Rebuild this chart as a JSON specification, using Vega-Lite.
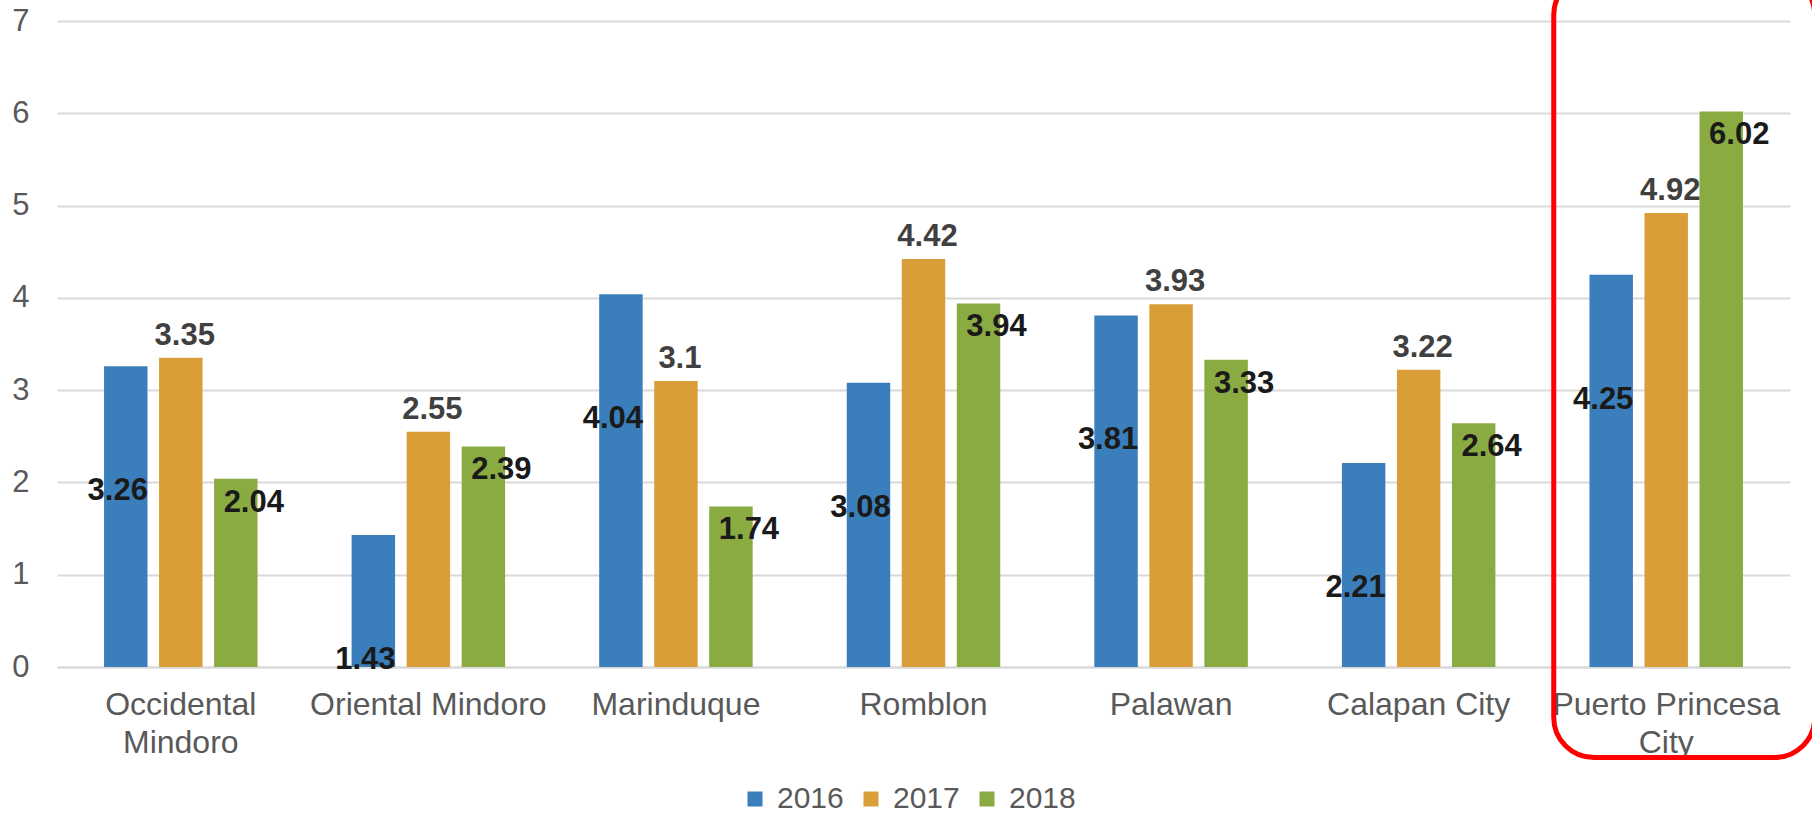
{
  "$schema": "https://vega.github.io/schema/vega-lite/v6.json",
  "width": 1733,
  "height": 646,
  "autosize": {"type": "none"},
  "padding": {"left": 57, "top": 21, "right": 22, "bottom": 147},
  "background": "white",
  "config": {
    "view": {"stroke": null},
    "font": "Liberation Sans"
  },
  "data": {
    "values": [
      {"region": "Occidental Mindoro", "year": "2016", "value": 3.26},
      {"region": "Occidental Mindoro", "year": "2017", "value": 3.35},
      {"region": "Occidental Mindoro", "year": "2018", "value": 2.04},
      {"region": "Oriental Mindoro", "year": "2016", "value": 1.43},
      {"region": "Oriental Mindoro", "year": "2017", "value": 2.55},
      {"region": "Oriental Mindoro", "year": "2018", "value": 2.39},
      {"region": "Marinduque", "year": "2016", "value": 4.04},
      {"region": "Marinduque", "year": "2017", "value": 3.1},
      {"region": "Marinduque", "year": "2018", "value": 1.74},
      {"region": "Romblon", "year": "2016", "value": 3.08},
      {"region": "Romblon", "year": "2017", "value": 4.42},
      {"region": "Romblon", "year": "2018", "value": 3.94},
      {"region": "Palawan", "year": "2016", "value": 3.81},
      {"region": "Palawan", "year": "2017", "value": 3.93},
      {"region": "Palawan", "year": "2018", "value": 3.33},
      {"region": "Calapan City", "year": "2016", "value": 2.21},
      {"region": "Calapan City", "year": "2017", "value": 3.22},
      {"region": "Calapan City", "year": "2018", "value": 2.64},
      {"region": "Puerto Princesa City", "year": "2016", "value": 4.25},
      {"region": "Puerto Princesa City", "year": "2017", "value": 4.92},
      {"region": "Puerto Princesa City", "year": "2018", "value": 6.02}
    ]
  },
  "resolve": {"axis": {"x": "independent", "y": "independent"}},
  "layer": [
    {
      "encoding": {
        "x": {
          "field": "region",
          "type": "nominal",
          "sort": null,
          "scale": {"paddingInner": 0.38, "paddingOuter": 0.19},
          "axis": {
            "title": null,
            "labelAngle": 0,
            "labelFontSize": 32,
            "labelColor": "#595959",
            "labelPadding": 22,
            "labelLineHeight": 38,
            "labelLimit": 0,
            "ticks": false,
            "domainColor": "#d9d9d9",
            "domainWidth": 2,
            "labelExpr": "datum.label == 'Occidental Mindoro' ? ['Occidental', 'Mindoro'] : datum.label == 'Puerto Princesa City' ? ['Puerto Princesa', 'City'] : datum.label"
          }
        },
        "xOffset": {
          "field": "year",
          "type": "nominal",
          "scale": {"paddingInner": 0.21, "paddingOuter": 0}
        },
        "y": {
          "field": "value",
          "type": "quantitative",
          "scale": {"domain": [0, 7], "nice": false},
          "axis": {
            "title": null,
            "values": [0, 1, 2, 3, 4, 5, 6, 7],
            "format": "d",
            "labelFontSize": 31,
            "labelColor": "#595959",
            "labelPadding": 28,
            "labelOverlap": false,
            "ticks": false,
            "domain": false,
            "gridColor": "#d9d9d9",
            "gridWidth": 2
          }
        }
      },
      "layer": [
        {
          "mark": {"type": "bar"},
          "encoding": {
            "color": {
              "field": "year",
              "type": "nominal",
              "scale": {"domain": ["2016", "2017", "2018"], "range": ["#3a7fbc", "#d99e38", "#8aab42"]},
              "legend": {
                "title": null,
                "orient": "none",
                "legendX": 683,
                "legendY": 763,
                "direction": "horizontal",
                "symbolType": "square",
                "symbolSize": 225,
                "symbolStrokeWidth": 0,
                "labelFontSize": 30,
                "labelColor": "#595959",
                "labelOffset": 7,
                "columnPadding": 12
              }
            }
          }
        },
        {
          "transform": [{"filter": "datum.year == '2016'"}],
          "mark": {"type": "text", "fontSize": 31, "fontWeight": "bold", "color": "#1a1a1a", "baseline": "middle", "align": "center", "dy": 125, "dx": -8},
          "encoding": {"text": {"field": "value", "type": "quantitative"}}
        },
        {
          "transform": [{"filter": "datum.year == '2017'"}],
          "mark": {"type": "text", "fontSize": 31, "fontWeight": "bold", "color": "#404040", "baseline": "middle", "align": "center", "dy": -22, "dx": 4},
          "encoding": {"text": {"field": "value", "type": "quantitative"}}
        },
        {
          "transform": [{"filter": "datum.year == '2018'"}],
          "mark": {"type": "text", "fontSize": 31, "fontWeight": "bold", "color": "#1a1a1a", "baseline": "middle", "align": "center", "dy": 24, "dx": 18},
          "encoding": {"text": {"field": "value", "type": "quantitative"}}
        }
      ]
    },
    {
      "data": {"values": [{"region": "Puerto Princesa City"}]},
      "mark": {"type": "bar", "fill": "white", "fillOpacity": 0, "stroke": "#ff0000", "strokeWidth": 5, "cornerRadius": 40, "width": {"band": 1.7}, "xOffset": 18, "clip": false},
      "encoding": {
        "x": {"field": "region", "type": "nominal", "sort": null, "axis": null},
        "y": {"datum": 7.5, "type": "quantitative", "axis": null},
        "y2": {"datum": -0.98}
      }
    }
  ]
}
